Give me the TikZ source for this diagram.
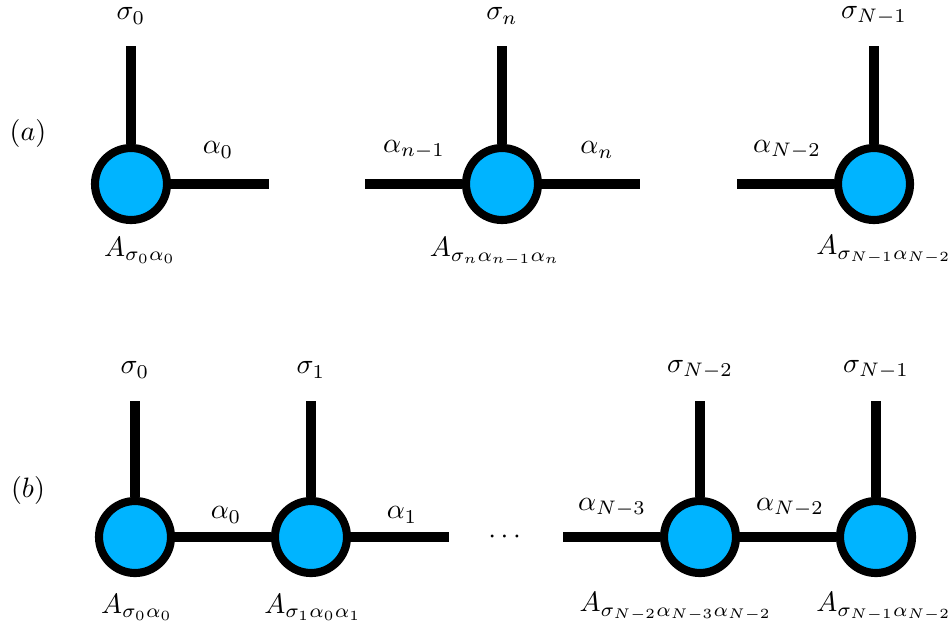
\documentclass[tikz,border=0pt]{standalone}
\usepackage{amsmath,amssymb}
\usetikzlibrary{positioning}
\definecolor{tensorblue}{RGB}{0,180,255}
\begin{document}
\begin{tikzpicture}[x=0.357pt, y=-0.357pt,
  tensor/.style={circle, draw, fill=tensorblue, line width=2.9pt, minimum size=25.7pt, inner sep=0pt},
  leg/.style={line width=3.6pt}
]
\useasboundingbox (0,0) rectangle (949,632);
% (a) single tensors
\node (lba) at (28,133) {$(a)$};
\node[tensor] (a0) at (131,184) {};
\node[tensor] (an) at (502,184) {};
\node[tensor] (aN) at (874,184) {};
\coordinate (a0up) at (131,46);
\coordinate (anup) at (502,46);
\coordinate (aNup) at (874,46);
\coordinate (a0r) at (269,184);
\coordinate (anl) at (365,184);
\coordinate (anr) at (640,184);
\coordinate (aNl) at (737,184);
\draw[leg] (a0) -- (a0up);
\draw[leg] (an) -- (anup);
\draw[leg] (aN) -- (aNup);
\draw[leg] (a0) -- (a0r);
\draw[leg] (an) -- (anl);
\draw[leg] (an) -- (anr);
\draw[leg] (aN) -- (aNl);
\node (a0s) at (131,16) {$\sigma_0$};
\node (ans) at (502,16) {$\sigma_n$};
\node (aNs) at (874,16) {$\sigma_{N-1}$};
\node (a0al) at (218,150) {$\alpha_0$};
\node (anal) at (414,150) {$\alpha_{n-1}$};
\node (anar) at (597,150) {$\alpha_n$};
\node (aNal) at (787,150) {$\alpha_{N-2}$};
\node (a0A) at (140,250) {$A_{\sigma_0\alpha_0}$};
\node (anA) at (495,252) {$A_{\sigma_n\alpha_{n-1}\alpha_n}$};
\node (aNA) at (884,250) {$A_{\sigma_{N-1}\alpha_{N-2}}$};
% (b) the chain
\node (lbb) at (28,490) {$(b)$};
\node[tensor] (b0) at (135,537) {};
\node[tensor] (b1) at (311,537) {};
\node[tensor] (bN2) at (700,537) {};
\node[tensor] (bN1) at (876,537) {};
\coordinate (b0up) at (135,401);
\coordinate (b1up) at (311,401);
\coordinate (bN2up) at (700,401);
\coordinate (bN1up) at (876,401);
\coordinate (b1r) at (449,537);
\coordinate (bN2l) at (563,537);
\draw[leg] (b0) -- (b0up);
\draw[leg] (b1) -- (b1up);
\draw[leg] (bN2) -- (bN2up);
\draw[leg] (bN1) -- (bN1up);
\draw[leg] (b0) -- (b1);
\draw[leg] (b1) -- (b1r);
\draw[leg] (bN2) -- (bN2l);
\draw[leg] (bN2) -- (bN1);
\node (dots) at (507,537) {$\cdots$};
\node (b0s) at (135,370) {$\sigma_0$};
\node (b1s) at (311,370) {$\sigma_1$};
\node (bN2s) at (700,370) {$\sigma_{N-2}$};
\node (bN1s) at (876,370) {$\sigma_{N-1}$};
\node (b0al) at (226,515) {$\alpha_0$};
\node (b1al) at (402,515) {$\alpha_1$};
\node (bN2al) at (612,508) {$\alpha_{N-3}$};
\node (bN1al) at (790,508) {$\alpha_{N-2}$};
\node (b0A) at (137,607) {$A_{\sigma_0\alpha_0}$};
\node (b1A) at (313,607) {$A_{\sigma_1\alpha_0\alpha_1}$};
\node (bN2A) at (676,607) {$A_{\sigma_{N-2}\alpha_{N-3}\alpha_{N-2}}$};
\node (bN1A) at (884,607) {$A_{\sigma_{N-1}\alpha_{N-2}}$};
\end{tikzpicture}
\end{document}
